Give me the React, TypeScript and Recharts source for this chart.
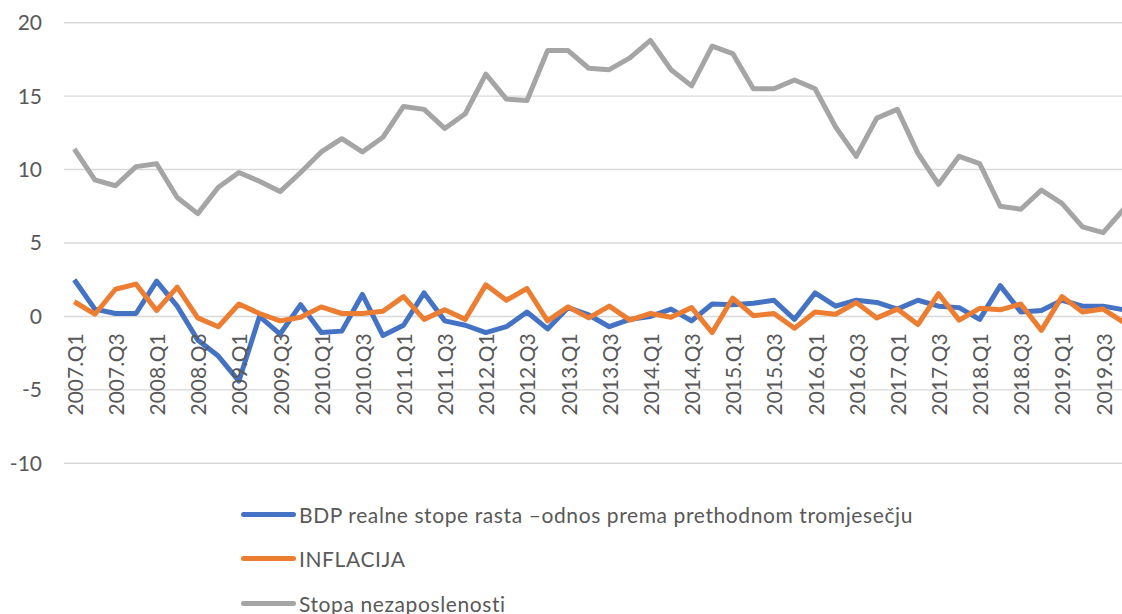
import React from "react";
import {
  LineChart,
  Line,
  XAxis,
  YAxis,
  CartesianGrid,
  Legend,
} from "recharts";

// quarters 2007.Q1 .. 2019.Q4
const quarters = [
  "2007.Q1", "2007.Q2", "2007.Q3", "2007.Q4",
  "2008.Q1", "2008.Q2", "2008.Q3", "2008.Q4",
  "2009.Q1", "2009.Q2", "2009.Q3", "2009.Q4",
  "2010.Q1", "2010.Q2", "2010.Q3", "2010.Q4",
  "2011.Q1", "2011.Q2", "2011.Q3", "2011.Q4",
  "2012.Q1", "2012.Q2", "2012.Q3", "2012.Q4",
  "2013.Q1", "2013.Q2", "2013.Q3", "2013.Q4",
  "2014.Q1", "2014.Q2", "2014.Q3", "2014.Q4",
  "2015.Q1", "2015.Q2", "2015.Q3", "2015.Q4",
  "2016.Q1", "2016.Q2", "2016.Q3", "2016.Q4",
  "2017.Q1", "2017.Q2", "2017.Q3", "2017.Q4",
  "2018.Q1", "2018.Q2", "2018.Q3", "2018.Q4",
  "2019.Q1", "2019.Q2", "2019.Q3", "2019.Q4",
];

const bdp = [
  2.5, 0.5, 0.2, 0.2, 2.4, 0.7, -1.6, -2.7, -4.4, 0.0, -1.2, 0.8,
  -1.1, -1.0, 1.5, -1.3, -0.6, 1.6, -0.3, -0.6, -1.1, -0.7, 0.3, -0.85,
  0.6, 0.1, -0.7, -0.2, 0.0, 0.5, -0.3, 0.85, 0.8, 0.9, 1.1, -0.2,
  1.6, 0.7, 1.1, 0.95, 0.5, 1.1, 0.7, 0.6, -0.2, 2.1, 0.3, 0.4,
  1.1, 0.7, 0.7, 0.45,
];

const inflacija = [
  1.0, 0.15, 1.85, 2.2, 0.4, 2.0, -0.1, -0.7, 0.85, 0.2, -0.3, -0.05,
  0.65, 0.2, 0.2, 0.35, 1.35, -0.2, 0.45, -0.2, 2.15, 1.1, 1.9, -0.3,
  0.65, -0.1, 0.7, -0.25, 0.2, -0.05, 0.6, -1.1, 1.25, 0.05, 0.2, -0.8,
  0.3, 0.15, 0.95, -0.1, 0.5, -0.55, 1.55, -0.25, 0.55, 0.45, 0.85, -0.95,
  1.35, 0.3, 0.5, -0.4,
];

const nezaposlenost = [
  11.4, 9.3, 8.9, 10.2, 10.4, 8.1, 7.0, 8.8, 9.8, 9.2, 8.5, 9.8,
  11.2, 12.1, 11.2, 12.2, 14.3, 14.1, 12.8, 13.8, 16.5, 14.8, 14.7, 18.1,
  18.1, 16.9, 16.8, 17.6, 18.8, 16.8, 15.7, 18.4, 17.9, 15.5, 15.5, 16.1,
  15.5, 12.9, 10.9, 13.5, 14.1, 11.1, 9.0, 10.9, 10.4, 7.5, 7.3, 8.6,
  7.7, 6.1, 5.7, 7.3,
];

const yTicks = [-10, -5, 0, 5, 10, 15, 20];

const data = quarters.map((q, i) => ({
  q,
  bdp: bdp[i],
  inflacija: inflacija[i],
  nezaposlenost: nezaposlenost[i],
}));

const FONT = "Lato, 'Open Sans', sans-serif";
const TEXT = "#595959";

// labels sit just under the zero line, like Excel does it
const QuarterTick = (props: any) => {
  const { x, y, payload } = props;
  return (
    <g transform={`translate(${x},${y})`}>
      <text
        transform="rotate(-90)"
        x={130}
        y={0}
        textAnchor="end"
        dominantBaseline="central"
        fill={TEXT}
        fontSize={21}
        fontFamily={FONT}
      >
        {payload.value}
      </text>
    </g>
  );
};

const LegendRows = (props: any) => {
  const { payload } = props;
  return (
    <div style={{ fontFamily: FONT }}>
      {payload.map((entry: any) => (
        <div
          key={entry.value}
          style={{ display: "flex", alignItems: "center", height: 44.5 }}
        >
          <span
            style={{
              display: "inline-block",
              width: 55,
              height: 5,
              borderRadius: 3,
              background: entry.color,
              marginRight: 3,
            }}
          />
          <span
            style={{
              color: TEXT,
              fontSize: 21,
              letterSpacing: 0.6,
              whiteSpace: "nowrap",
            }}
          >
            {entry.value}
          </span>
        </div>
      ))}
    </div>
  );
};

export default function App() {
  return (
    <div
      style={{
        position: "fixed",
        left: 0,
        top: 0,
        width: 1122,
        height: 614,
        overflow: "hidden",
        background: "#fff",
      }}
    >
      <LineChart
        width={1140}
        height={614}
        data={data}
        margin={{ top: 22.7, right: 6, left: 0, bottom: 130.7 }}
      >
        <CartesianGrid
          vertical={false}
          stroke="#d9d9d9"
          strokeWidth={1.4}
        />
        <XAxis
          dataKey="q"
          interval={1}
          height={20}
          axisLine={false}
          tickLine={false}
          tickSize={0}
          tickMargin={0}
          padding={{ left: 10.3, right: 10.3 }}
          tick={<QuarterTick />}
        />
        <YAxis
          domain={[-10, 20]}
          ticks={yTicks}
          width={64}
          axisLine={false}
          tickLine={false}
          tickSize={0}
          tickMargin={22}
          tick={{ fill: TEXT, fontSize: 21, fontFamily: FONT }}
        />
        <Legend
          layout="vertical"
          align="center"
          verticalAlign="middle"
          content={<LegendRows />}
          wrapperStyle={{ left: 241, top: 492, width: "auto" }}
        />
        <Line
          dataKey="bdp"
          name="BDP realne stope rasta –odnos prema prethodnom tromjesečju"
          stroke="#4472c4"
          strokeWidth={5}
          strokeLinejoin="round"
          dot={false}
          isAnimationActive={false}
        />
        <Line
          dataKey="inflacija"
          name="INFLACIJA"
          stroke="#ed7d31"
          strokeWidth={5}
          strokeLinejoin="round"
          dot={false}
          isAnimationActive={false}
        />
        <Line
          dataKey="nezaposlenost"
          name="Stopa nezaposlenosti"
          stroke="#a5a5a5"
          strokeWidth={5}
          strokeLinejoin="round"
          dot={false}
          isAnimationActive={false}
        />
      </LineChart>
    </div>
  );
}
